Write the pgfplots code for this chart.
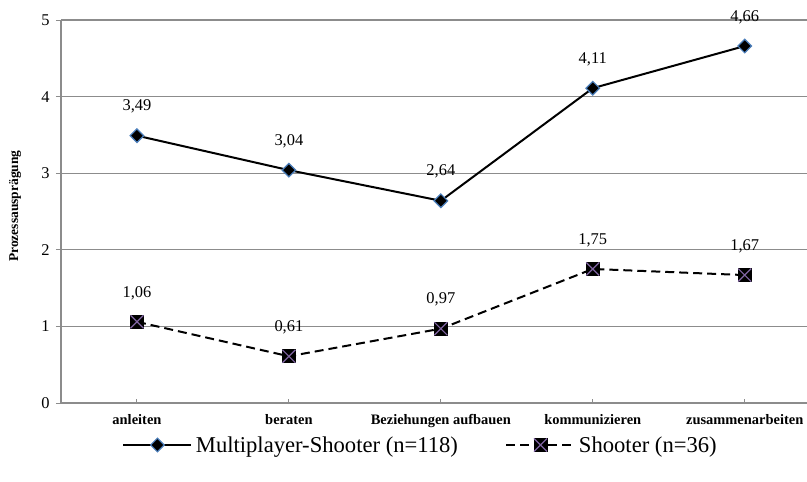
\documentclass[border=0pt]{standalone}
\usepackage{fontspec}
\setmainfont{Liberation Serif}
\usepackage{pgfplots}
\pgfplotsset{compat=1.18}
\definecolor{mkblue}{HTML}{4A7EBB}
\definecolor{mkpurple}{HTML}{8064A2}
\definecolor{gridgray}{HTML}{8C8C8C}
\pgfdeclareplotmark{sqx}{%
  \pgfsetdash{}{0pt}%
  \pgfpathrectangle{\pgfqpoint{-\pgfplotmarksize}{-\pgfplotmarksize}}{\pgfqpoint{2\pgfplotmarksize}{2\pgfplotmarksize}}%
  \pgfsetfillcolor{black}\pgfsetstrokecolor{black}\pgfsetlinewidth{0.6bp}%
  \pgfusepath{fill,stroke}%
  \pgfpathmoveto{\pgfqpoint{-\pgfplotmarksize}{-\pgfplotmarksize}}%
  \pgfpathlineto{\pgfqpoint{\pgfplotmarksize}{\pgfplotmarksize}}%
  \pgfpathmoveto{\pgfqpoint{-\pgfplotmarksize}{\pgfplotmarksize}}%
  \pgfpathlineto{\pgfqpoint{\pgfplotmarksize}{-\pgfplotmarksize}}%
  \pgfsetstrokecolor{mkpurple}\pgfsetlinewidth{1.2bp}%
  \pgfusepath{stroke}%
}
\begin{document}
\begin{tikzpicture}
\useasboundingbox (-61bp,-79bp) rectangle (746bp,403bp);
\begin{axis}[
  at={(0,0)}, anchor=south west,
  scale only axis, width=746bp, height=383bp,
  xmin=-0.5, xmax=4.41, ymin=0, ymax=5,
  xtick={0,1,2,3,4},
  xticklabels={anleiten,beraten,Beziehungen aufbauen,kommunizieren,zusammenarbeiten},
  ytick={0,1,2,3,4,5},
  axis x line*=bottom, axis y line*=left,
  axis line style={gridgray, line width=1.2bp, -},
  ymajorgrids, grid style={gridgray, line width=1.2bp},
  tick style={gridgray, line width=1bp},
  major tick length=5bp,
  tick align=outside,
  xtick style={yshift=4bp},
  clip=false,
  /pgf/number format/assume math mode=true,
  xticklabel style={font=\fontsize{14.5}{16}\selectfont\bfseries, yshift=-3bp},
  yticklabel style={font=\fontsize{16.5}{18}\selectfont, xshift=-3bp},
  ylabel={Prozessausprägung},
  every axis y label/.style={at={(axis description cs:0,0.514)}, xshift=-46bp, rotate=90, anchor=center, font=\fontsize{13.5}{16}\selectfont\bfseries},
  legend columns=2,
  legend style={at={(axis description cs:0.483,0)}, anchor=center, yshift=-42bp, draw=none, fill=none,
    font=\fontsize{22.7}{26}\selectfont, inner sep=0pt, nodes={inner sep=3.5bp},
    /tikz/every even column/.append style={column sep=44bp}},
  legend image code/.code={\draw[mark repeat=2,mark phase=2,#1] plot coordinates {(0bp,0bp) (34bp,0bp) (68bp,0bp)};},
]
\addplot[black, line width=2bp, mark=square*, mark size=4.8bp,
  mark options={rotate=45, fill=black, draw=mkblue, line width=1.2bp, solid},
  nodes near coords={\pgfmathprintnumber[fixed,fixed zerofill,precision=2,use comma,assume math mode=true]{\pgfplotspointmeta}},
  every node near coord/.append style={font=\fontsize{16.5}{18}\selectfont, anchor=center, yshift=29bp, text=black}]
  coordinates {(0,3.49) (1,3.04) (2,2.64) (3,4.11) (4,4.66)};
\addlegendentry{Multiplayer-Shooter (n=118)}
\addplot[black, line width=2bp, dash pattern=on 9bp off 5bp, mark=sqx, mark size=6.5bp,
  nodes near coords={\pgfmathprintnumber[fixed,fixed zerofill,precision=2,use comma,assume math mode=true]{\pgfplotspointmeta}},
  every node near coord/.append style={font=\fontsize{16.5}{18}\selectfont, anchor=center, yshift=29bp, text=black}]
  coordinates {(0,1.06) (1,0.61) (2,0.97) (3,1.75) (4,1.67)};
\addlegendentry{Shooter (n=36)}
\end{axis}
\end{tikzpicture}
\end{document}
